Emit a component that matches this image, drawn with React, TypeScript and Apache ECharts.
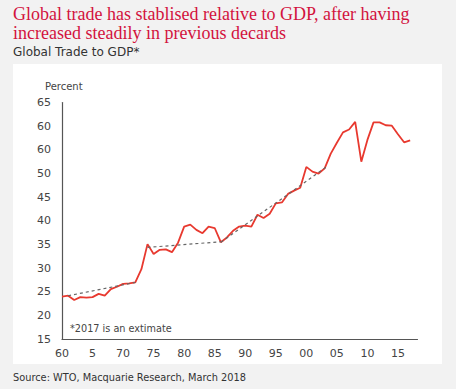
import React, { useEffect, useRef } from "react";
import * as echarts from "echarts";

const years: number[] = [
  1960, 1961, 1962, 1963, 1964, 1965, 1966, 1967, 1968, 1969,
  1970, 1971, 1972, 1973, 1974, 1975, 1976, 1977, 1978, 1979,
  1980, 1981, 1982, 1983, 1984, 1985, 1986, 1987, 1988, 1989,
  1990, 1991, 1992, 1993, 1994, 1995, 1996, 1997, 1998, 1999,
  2000, 2001, 2002, 2003, 2004, 2005, 2006, 2007, 2008, 2009,
  2010, 2011, 2012, 2013, 2014, 2015, 2016, 2017,
];
const tradeToGdp: number[] = [
  24.0, 24.2, 23.3, 23.9, 23.8, 23.9, 24.6, 24.2, 25.6, 26.1,
  26.7, 26.8, 27.0, 29.8, 35.1, 33.0, 33.9, 34.0, 33.4, 35.4,
  38.8, 39.2, 38.1, 37.4, 38.8, 38.5, 35.5, 36.5, 37.9, 38.8,
  39.0, 38.8, 41.3, 40.6, 41.5, 43.7, 43.9, 45.7, 46.4, 47.0,
  51.4, 50.4, 50.0, 51.1, 54.2, 56.5, 58.7, 59.3, 60.9, 52.5,
  57.1, 60.8, 60.8, 60.2, 60.1, 58.3, 56.6, 57.0,
];
// trend segments as [year, value] pairs
const trend1: number[][] = [[1961, 24.2], [1972, 27.0]];
const trend2: number[][] = [[1974, 34.4], [1986, 35.6]];
const trend3: number[][] = [[1986, 35.5], [2003.5, 51.6]];

const xTickLabels: Record<number, string> = {
  1960: "60", 1965: "5", 1970: "70", 1975: "75", 1980: "80", 1985: "85",
  1990: "90", 1995: "95", 2000: "00", 2005: "05", 2010: "10", 2015: "15",
};
const yTickLabels: Record<number, string> = {
  15: "15", 20: "20", 25: "25", 30: "30", 35: "35", 40: "40",
  45: "45", 50: "50", 55: "60", 60: "60", 65: "65",
};

const titleLine1 = "Global trade has stablised relative to GDP, after having";
const titleLine2 = "increased steadily in previous decards";
const subtitle = "Global Trade to GDP*";
const unitLabel = "Percent";
const note = "*2017 is an extimate";
const source = "Source: WTO, Macquarie Research, March 2018";

const SANS = "'DejaVu Sans', sans-serif";

export default function App() {
  const ref = useRef<HTMLDivElement>(null);
  useEffect(() => {
    if (!ref.current) return;
    const chart = echarts.init(ref.current, null, { renderer: "svg" });
    const lineData = years.map((y, i) => [y, tradeToGdp[i]]);
    const dashStyle = { color: "#666666", width: 1.2, type: [3, 3] as any };
    chart.setOption({
      animation: false,
      backgroundColor: "#f2f2f2",
      grid: { left: 62, right: 38.5, top: 102.5, bottom: 49.7 },
      xAxis: {
        type: "value",
        min: 1960,
        max: 2018.2,
        interval: 5,
        splitLine: { show: false },
        axisLine: { show: true, onZero: false, lineStyle: { color: "#555555", width: 1.2 } },
        axisTick: { show: false },
        axisLabel: {
          showMaxLabel: false,
          margin: 9,
          color: "#444444",
          fontFamily: SANS,
          fontSize: 11,
          formatter: (v: number) => xTickLabels[v] ?? "",
        },
      },
      yAxis: {
        type: "value",
        min: 15,
        max: 65,
        interval: 5,
        splitLine: { show: false },
        axisLine: { show: true, onZero: false, lineStyle: { color: "#555555", width: 1.2 } },
        axisTick: { show: false },
        axisLabel: {
          margin: 11,
          color: "#444444",
          fontFamily: SANS,
          fontSize: 11,
          formatter: (v: number) => yTickLabels[v] ?? "",
        },
      },
      graphic: [
        {
          type: "rect",
          z: -10,
          silent: true,
          shape: { x: 13, y: 64, width: 429, height: 300 },
          style: { fill: "#ffffff" },
        },
        {
          type: "text",
          x: 13,
          y: 4,
          style: {
            text: titleLine1 + "\n" + titleLine2,
            fill: "#d3123e",
            font: "18px 'Liberation Serif', serif",
            lineHeight: 19.5,
          },
        },
        {
          type: "text",
          x: 13,
          y: 46,
          style: { text: subtitle, fill: "#333333", font: `12px ${SANS}` },
        },
        {
          type: "text",
          x: 45,
          y: 81,
          style: { text: unitLabel, fill: "#444444", font: `10px ${SANS}` },
        },
        {
          type: "text",
          x: 70,
          y: 323,
          style: { text: note, fill: "#444444", font: `9.7px ${SANS}` },
        },
        {
          type: "text",
          x: 13,
          y: 372,
          style: { text: source, fill: "#333333", font: `9.8px ${SANS}` },
        },
      ],
      series: [
        { type: "line", data: trend1, symbol: "none", lineStyle: dashStyle, z: 3 },
        { type: "line", data: trend2, symbol: "none", lineStyle: dashStyle, z: 3 },
        { type: "line", data: trend3, symbol: "none", lineStyle: dashStyle, z: 3 },
        {
          type: "line",
          data: lineData,
          symbol: "none",
          lineStyle: { color: "#e8392f", width: 1.8 },
          z: 2,
        },
      ],
    });
    return () => chart.dispose();
  }, []);
  return (
    <div
      ref={ref}
      style={{ position: "fixed", left: 0, top: 0, width: 456, height: 389 }}
    />
  );
}
